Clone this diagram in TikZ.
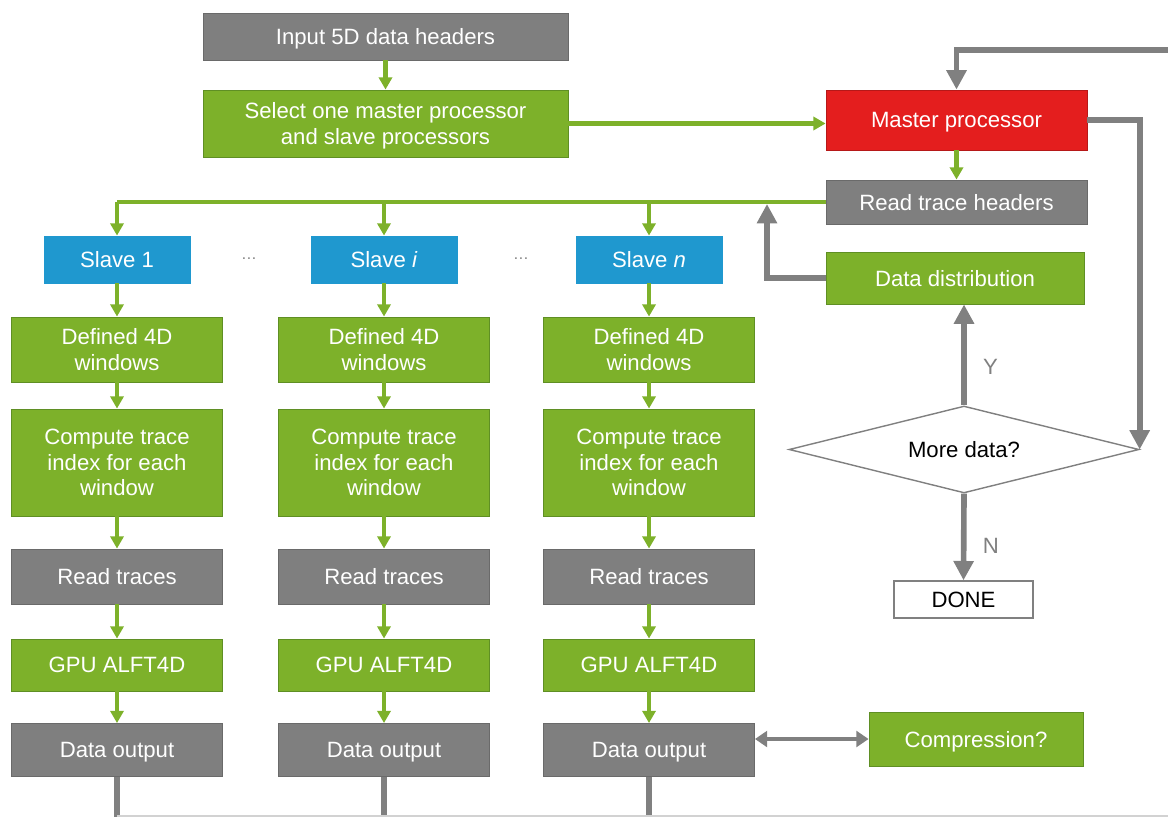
\documentclass[tikz,border=0pt]{standalone}
\usepackage{fontspec}
\setmainfont{Liberation Sans}
\usetikzlibrary{arrows.meta,shapes.geometric}
\definecolor{boxgreen}{HTML}{7DB12A}
\definecolor{greenedge}{HTML}{5F8F24}
\definecolor{boxgray}{HTML}{7F7F7F}
\definecolor{grayedge}{HTML}{6A6A6A}
\definecolor{slaveblue}{HTML}{1F98CF}
\definecolor{masterred}{HTML}{E41E1E}
\definecolor{linegray}{HTML}{808080}

\begin{document}
\begin{tikzpicture}[x=0.02cm,y=-0.02cm,
  box/.style={draw,line width=0.5pt,inner sep=0pt,align=center,text=white,text depth=0pt,
    font=\fontsize{12.6}{14.6}\selectfont},
  greenbox/.style={box,fill=boxgreen,draw=greenedge},
  graybox/.style={box,fill=boxgray,draw=grayedge},
  slavebox/.style={box,fill=slaveblue,draw=slaveblue,minimum width=2.92cm,minimum height=0.94cm},
  colbox/.style={minimum width=4.22cm},
  gflow/.style={draw=boxgreen,line width=2.3pt,-{Triangle[length=7pt,width=7.5pt]}},
  kflow/.style={draw=linegray,line width=3.2pt,-{Triangle[length=11pt,width=11pt]}},
  lbl/.style={text=linegray,font=\fontsize{12.6}{14.6}\selectfont}]
  \path[use as bounding box] (0,0) rectangle (1168,817);

  % Master side
  \node[graybox,minimum width=7.3cm,minimum height=0.94cm] (inp) at (385.5,36.5) {Input 5D data headers};
  \node[greenbox,minimum width=7.3cm,minimum height=1.34cm] (sel) at (385.5,123.5)
    {Select one master processor\\and slave processors};
  \node[box,fill=masterred,draw=masterred!80!black,minimum width=5.22cm,minimum height=1.2cm] (mp) at (956.5,120) {Master processor};
  \node[graybox,minimum width=5.22cm,minimum height=0.88cm] (rth) at (956.5,202) {Read trace headers};
  \node[greenbox,minimum width=5.16cm,minimum height=1.04cm] (dd) at (955,278) {Data distribution};
  \node[draw=linegray,line width=0.8pt,fill=white,shape=diamond,aspect=4,inner sep=0pt,text depth=0pt,
    minimum width=7cm,minimum height=1.74cm,font=\fontsize{12.6}{14.6}\selectfont] (md) at (964,449.5) {More data?};
  \node[draw=linegray,line width=0.8pt,fill=white,minimum width=2.78cm,minimum height=0.74cm,
    inner sep=0pt,text depth=0pt,font=\fontsize{12.6}{14.6}\selectfont] (done) at (963.5,599.5) {DONE};
  \node[greenbox,minimum width=4.28cm,minimum height=1.08cm] (comp) at (976,739) {Compression?};

  \draw[gflow] (inp) -- (sel);
  \draw[gflow] (sel.east) -- (sel.east -| mp.west);
  \draw[gflow] (mp) -- (rth);
  \coordinate (topin) at (1168,50);
  \draw[kflow] (topin) -| (mp.north);
  \draw[kflow] (mp.east) -| (md.east);
  \draw[kflow] (md.north) -- node[lbl,right=6pt,pos=0.38] {Y} (md.north |- dd.south);
  \draw[kflow] (md.south) -- node[lbl,right=6pt,pos=0.6] {N} (done.north);
  \coordinate (fb) at (767,204);
  \draw[kflow] (dd.west) -| (fb);

  % Slave columns
  \foreach \c/\cx/\lab in {1/117/1,2/384/\textit{i},3/649/\textit{n}}{
    \node[slavebox] (s\c) at (\cx,259.5) {Slave \lab};
    \node[greenbox,colbox,minimum height=1.3cm] (dw\c) at (\cx,349.5) {Defined 4D\\windows};
    \node[greenbox,colbox,minimum height=2.14cm] (ct\c) at (\cx,462.5)
      {Compute trace\\index for each\\window};
    \node[graybox,colbox,minimum height=1.1cm] (rt\c) at (\cx,576.5) {Read traces};
    \node[greenbox,colbox,minimum height=1.04cm] (gpu\c) at (\cx,665) {GPU ALFT4D};
    \node[graybox,colbox,minimum height=1.06cm] (do\c) at (\cx,750) {Data output};
    \draw[gflow] (s\c) -- (dw\c);
    \draw[gflow] (dw\c) -- (ct\c);
    \draw[gflow] (ct\c) -- (rt\c);
    \draw[gflow] (rt\c) -- (gpu\c);
    \draw[gflow] (gpu\c) -- (do\c);
    \draw[draw=linegray,line width=3.2pt] (do\c.south) -- (\cx,817);
  }
  \node[text=linegray,font=\small] (dots1) at (249,259) {\dots};
  \node[text=linegray,font=\small] (dots2) at (521,259) {\dots};

  % Header line to the slaves
  \draw[gflow,-] (rth.west) -- (s1.north |- rth.west);
  \draw[gflow] (s1.north |- rth.west) -- (s1.north);
  \draw[gflow] (s2.north |- rth.west) -- (s2.north);
  \draw[gflow] (s3.north |- rth.west) -- (s3.north);

  \draw[draw=linegray,line width=2.3pt,{Triangle[length=7pt,width=9pt]}-{Triangle[length=7pt,width=9pt]}]
    (do3.east |- comp.west) -- (comp.west);
  \draw[gray!35,line width=0.6pt] (117,816) -- (1168,816);
\end{tikzpicture}
\end{document}
